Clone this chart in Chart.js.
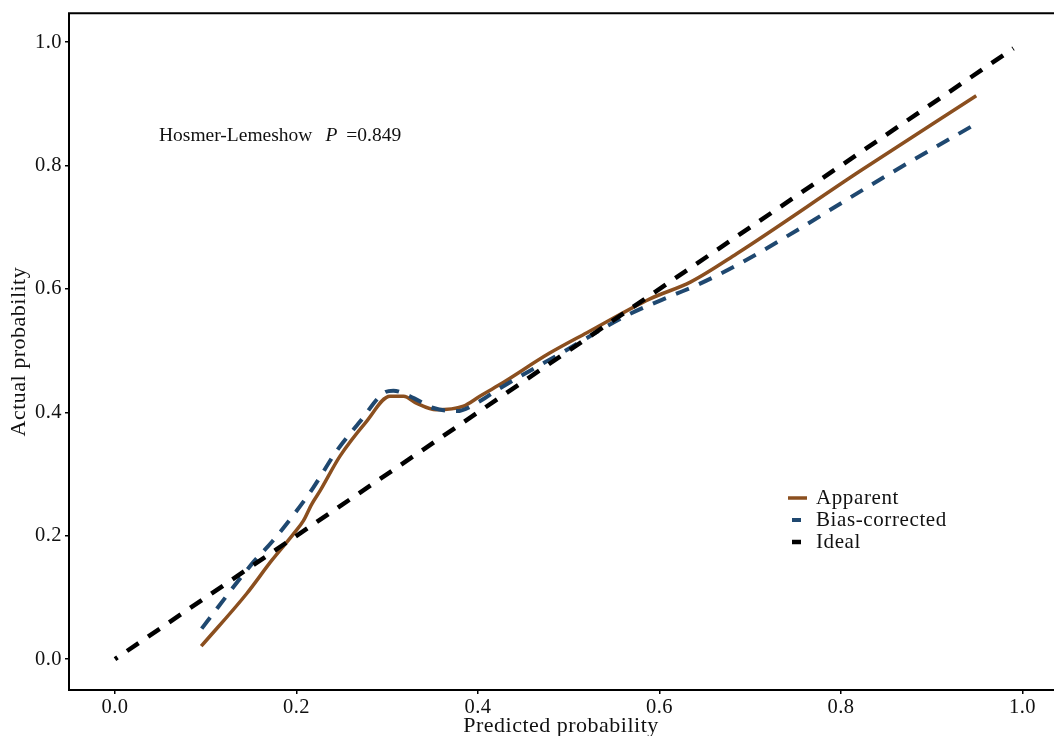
<!DOCTYPE html>
<html>
<head>
<meta charset="utf-8">
<script src="https://cdn.jsdelivr.net/npm/chart.js@4/dist/chart.umd.min.js"></script>
<style>
  html, body { margin: 0; padding: 0; background: #ffffff; }
  #wrap { width: 1054px; height: 736px; position: relative; }
</style>
</head>
<body>
<div id="wrap"><canvas id="c" width="1054" height="736"></canvas></div>
<script>
// ---- data ----
const seriesNames = ["Apparent", "Bias-corrected", "Ideal"];

const apparentX = [0.095, 0.145, 0.1727, 0.1965, 0.2075, 0.2167, 0.2259, 0.2479, 0.277, 0.303, 0.318, 0.332, 0.354, 0.384, 0.402, 0.424, 0.479, 0.520, 0.5895, 0.634, 0.685, 0.821, 0.949];
const apparentY = [0.021, 0.106, 0.160, 0.2027, 0.224, 0.251, 0.2726, 0.329, 0.385, 0.426, 0.426, 0.415, 0.404, 0.410, 0.426, 0.445, 0.496, 0.529, 0.584, 0.611, 0.657, 0.791, 0.913];

const biasX = [0.0955, 0.1506, 0.174, 0.200, 0.2185, 0.244, 0.270, 0.2957, 0.3067, 0.325, 0.351, 0.3765, 0.402, 0.422, 0.494, 0.564, 0.615, 0.641, 0.692, 0.854, 0.948];
const biasY = [0.0495, 0.154, 0.192, 0.240, 0.278, 0.337, 0.385, 0.431, 0.435, 0.426, 0.407, 0.402, 0.418, 0.437, 0.498, 0.557, 0.590, 0.606, 0.644, 0.787, 0.867];

const idealX = [0, 0.99];
const idealY = [0, 0.99];

const xTicks = [0.0, 0.2, 0.4, 0.6, 0.8, 1.0];
const yTicks = [0.0, 0.2, 0.4, 0.6, 0.8, 1.0];

const hlLabel = "Hosmer-Lemeshow";
const hlSymbol = "P";
const hlValue = "=0.849";

// ---- build chart ----
const toPts = (xs, ys) => xs.map((x, i) => ({ x: x, y: ys[i] }));
const SERIF = "'Liberation Serif', 'DejaVu Serif', serif";

const spacing = {
  id: 'spacing',
  beforeInit(chart) { chart.ctx.letterSpacing = '0.5px'; },
  beforeDraw(chart) { chart.ctx.letterSpacing = '0.5px'; }
};

const decor = {
  id: 'decor',
  afterDraw(chart) {
    const { ctx, chartArea: a, scales } = chart;
    ctx.save();
    // panel border
    ctx.strokeStyle = '#000';
    ctx.lineWidth = 2;
    ctx.strokeRect(a.left, a.top, a.right - a.left + 4, a.bottom - a.top);

    // annotation
    ctx.letterSpacing = '0px';
    const ax = scales.x.getPixelForValue(0.0485);
    const ay = scales.y.getPixelForValue(0.84);
    ctx.fillStyle = '#111';
    ctx.textBaseline = 'alphabetic';
    ctx.textAlign = 'left';
    ctx.font = "19.5px " + SERIF;
    ctx.fillText(hlLabel, ax, ay);
    let w = ctx.measureText(hlLabel).width;
    ctx.font = "italic 19.5px " + SERIF;
    ctx.fillText(hlSymbol, ax + w + 13, ay);
    const wp = ctx.measureText(hlSymbol).width;
    ctx.font = "19.5px " + SERIF;
    ctx.fillText(hlValue, ax + w + 13 + wp + 9, ay);

    // legend
    ctx.letterSpacing = '0.6px';
    const lx = 788, ly = 498, lh = 22;
    ctx.font = "21px " + SERIF;
    ctx.textBaseline = 'middle';
    chart.data.datasets.forEach((ds, i) => {
      const y = ly + i * lh;
      ctx.beginPath();
      ctx.strokeStyle = ds.borderColor;
      ctx.lineWidth = ds.borderWidth;
      ctx.setLineDash([]);
      if (ds.borderDash && ds.borderDash.length) {
        ctx.moveTo(lx + 4, y); ctx.lineTo(lx + 13, y);
      } else {
        ctx.moveTo(lx, y); ctx.lineTo(lx + 19, y);
      }
      ctx.stroke();
      ctx.fillStyle = '#111';
      ctx.fillText(ds.label, lx + 28, y);
    });
    ctx.restore();
  }
};

new Chart(document.getElementById('c'), {
  type: 'line',
  data: {
    datasets: [
      { label: seriesNames[0], data: toPts(apparentX, apparentY), borderColor: '#8B4F1F', borderWidth: 3.5,
        pointRadius: 0, cubicInterpolationMode: 'monotone', order: 3, fill: false },
      { label: seriesNames[1], data: toPts(biasX, biasY), borderColor: '#1F4870', borderWidth: 4,
        borderDash: [14, 11], pointRadius: 0, cubicInterpolationMode: 'monotone', order: 2, fill: false },
      { label: seriesNames[2], data: toPts(idealX, idealY), borderColor: '#000000', borderWidth: 4.5,
        borderDash: [14, 11.5], borderDashOffset: 11, pointRadius: 0, order: 1, fill: false }
    ]
  },
  options: {
    responsive: false,
    animation: false,
    devicePixelRatio: 1,
    layout: { padding: { top: 10, right: 1, left: 0, bottom: 0 } },
    plugins: { legend: { display: false }, tooltip: { enabled: false } },
    scales: {
      x: {
        type: 'linear',
        min: -0.0507,
        max: 1.0336,
        afterFit(s) { s.height = 46; },
        afterBuildTicks(s) { s.ticks = xTicks.map(v => ({ value: v })); },
        grid: { display: true, drawOnChartArea: false, drawTicks: true, tickLength: 4, color: '#000', lineWidth: 1.5 },
        border: { display: false },
        ticks: { color: '#111', padding: 3, maxRotation: 0, autoSkip: false,
                 font: { family: SERIF, size: 20.5, lineHeight: 1 },
                 callback: v => v.toFixed(1) },
        title: { display: true, text: 'Predicted probability', color: '#111',
                 font: { family: SERIF, size: 22, lineHeight: 1.2 }, padding: { top: 0, bottom: -3 } }
      },
      y: {
        type: 'linear',
        min: -0.05,
        max: 1.0468,
        afterFit(s) { s.width = 69; },
        afterBuildTicks(s) { s.ticks = yTicks.map(v => ({ value: v })); },
        grid: { display: true, drawOnChartArea: false, drawTicks: true, tickLength: 4, color: '#000', lineWidth: 1.5 },
        border: { display: false },
        ticks: { color: '#111', padding: 3, autoSkip: false,
                 font: { family: SERIF, size: 20.5, lineHeight: 1 },
                 callback: v => v.toFixed(1) },
        title: { display: true, text: 'Actual probability', color: '#111',
                 font: { family: SERIF, size: 22, lineHeight: 1.2 }, padding: { top: 6, bottom: 0 } }
      }
    }
  },
  plugins: [spacing, decor]
});
</script>
</body>
</html>
